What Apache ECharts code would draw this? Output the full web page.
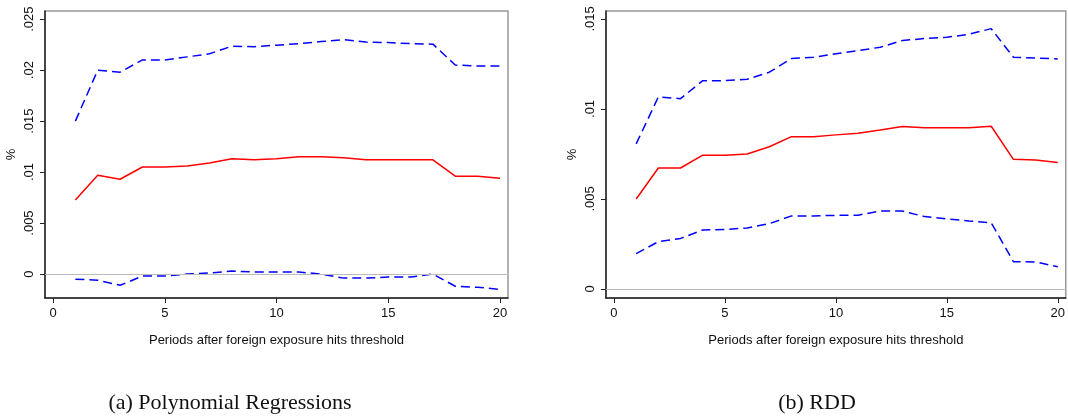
<!DOCTYPE html>
<html>
<head>
<meta charset="utf-8">
<script src="https://cdn.jsdelivr.net/npm/echarts@6/dist/echarts.min.js"></script>
<style>
  html, body { margin: 0; padding: 0; background: #fff; }
  #chart { width: 1068px; height: 419px; }
</style>
</head>
<body>
<div id="chart"></div>
<script>
// periods 1..20
const periods = [1,2,3,4,5,6,7,8,9,10,11,12,13,14,15,16,17,18,19,20];
const xTicks = [0, 5, 10, 15, 20];

// (a) polynomial regressions
const polyUpper = [.0150,.0200,.0198,.0210,.0210,.0213,.0216,.02235,.0223,.02245,.0226,.0228,.0230,.02275,.0227,.0226,.02255,.0205,.0204,.0204];
const polyEst   = [.00725,.0097,.0093,.0105,.0105,.0106,.0109,.0113,.0112,.0113,.0115,.0115,.0114,.0112,.0112,.0112,.0112,.0096,.0096,.0094];
const polyLower = [-.0005,-.0006,-.0011,-.0002,-.0002,0,.0001,.0003,.0002,.0002,.0002,0,-.0004,-.0004,-.0003,-.0003,0,-.0012,-.0013,-.0015];
const polyTicks = [0, .005, .01, .015, .02, .025];

// (b) RDD
const rddUpper = [.00806,.01067,.01057,.01157,.01157,.01165,.01204,.0128,.01287,.01306,.01324,.01343,.0138,.01391,.01398,.01415,.01446,.01287,.01283,.01278];
const rddEst   = [.0050,.00672,.00672,.00743,.00743,.0075,.0079,.00846,.00846,.00856,.00865,.00883,.00902,.00896,.00896,.00896,.00904,.0072,.00717,.00702];
const rddLower = [.00196,.00263,.00281,.00328,.0033,.00339,.00363,.00406,.00406,.00409,.0041,.00433,.00433,.00402,.00389,.00378,.00368,.00152,.0015,.00124];
const rddTicks = [0, .005, .01, .015];

const xTitle = 'Periods after foreign exposure hits threshold';
const captions = ['(a) Polynomial Regressions', '(b) RDD'];

const pairs = (ys) => periods.map((p, i) => [p, ys[i]]);
const fmt = (v) => v === 0 ? '0' : String(+v.toFixed(4)).replace(/^0/, '');
const sans = 'Liberation Sans, Arial, sans-serif';

function xAxisFor(idx) {
  return {
    gridIndex: idx, type: 'value', min: -0.36, max: 20.36,
    name: xTitle, nameLocation: 'middle', nameGap: 36,
    nameTextStyle: { fontFamily: sans, fontSize: 13, color: '#111' },
    axisLine: { show: true, onZero: false, lineStyle: { color: '#222', width: 1.5 } },
    axisTick: { show: true, length: 5, customValues: xTicks, lineStyle: { color: '#222' } },
    axisLabel: { customValues: xTicks, margin: 9, fontFamily: sans, fontSize: 13, color: '#111' },
    splitLine: { show: false }
  };
}
function yAxisFor(idx, min, max, ticks) {
  return {
    gridIndex: idx, type: 'value', min: min, max: max,
    name: '%', nameLocation: 'middle', nameGap: 27, nameRotate: 90,
    nameTextStyle: { fontFamily: sans, fontSize: 13, color: '#111' },
    axisLine: { show: true, onZero: false, lineStyle: { color: '#222', width: 1.5 } },
    axisTick: { show: true, length: 5, customValues: ticks, lineStyle: { color: '#222' } },
    axisLabel: { customValues: ticks, rotate: 90, margin: 9, fontFamily: sans, fontSize: 13, color: '#111', formatter: fmt },
    splitLine: { show: false }
  };
}
function seriesFor(idx, upper, est, lower) {
  const dash = { color: '#0000ff', width: 1.5, type: [9, 5] };
  return [
    { type: 'line', xAxisIndex: idx, yAxisIndex: idx, data: pairs(upper), symbol: 'none', lineStyle: dash, z: 3 },
    { type: 'line', xAxisIndex: idx, yAxisIndex: idx, data: pairs(est), symbol: 'none',
      lineStyle: { color: '#ff0000', width: 1.5 }, z: 3,
      markLine: { silent: true, symbol: 'none', label: { show: false },
        lineStyle: { color: '#bbbbbb', width: 1.2, type: 'solid' }, data: [{ yAxis: 0 }] } },
    { type: 'line', xAxisIndex: idx, yAxisIndex: idx, data: pairs(lower), symbol: 'none', lineStyle: dash, z: 3 }
  ];
}

const chart = echarts.init(document.getElementById('chart'));
chart.setOption({
  animation: false,
  backgroundColor: '#fff',
  grid: [
    { left: 45, top: 11, width: 463, height: 287, show: true, borderColor: '#999', borderWidth: 1.5 },
    { left: 606, top: 11, width: 464, height: 287, show: true, borderColor: '#999', borderWidth: 1.5 }
  ],
  xAxis: [xAxisFor(0), xAxisFor(1)],
  yAxis: [yAxisFor(0, -0.00235, 0.0258, polyTicks), yAxisFor(1, -0.0005, 0.01544, rddTicks)],
  series: [].concat(seriesFor(0, polyUpper, polyEst, polyLower), seriesFor(1, rddUpper, rddEst, rddLower)),
  graphic: [
    { type: 'text', x: 230, y: 392, style: { text: captions[0], font: '22px "Liberation Serif", serif', fill: '#111', textAlign: 'center' } },
    { type: 'text', x: 817, y: 392, style: { text: captions[1], font: '22px "Liberation Serif", serif', fill: '#111', textAlign: 'center' } }
  ]
});
</script>
</body>
</html>
